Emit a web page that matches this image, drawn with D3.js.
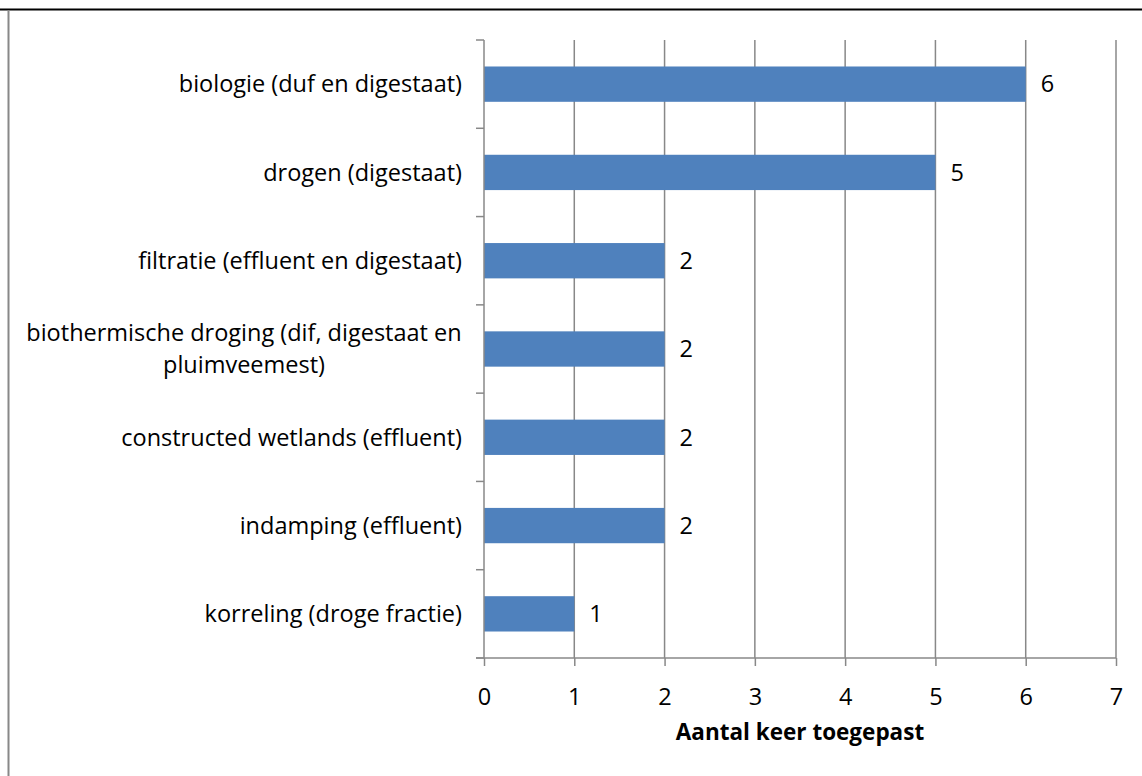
<!DOCTYPE html>
<html>
<head>
<meta charset="utf-8">
<script src="https://cdn.jsdelivr.net/npm/d3@7"></script>
<style>
  body { margin: 0; background: #fff; }
  svg text { font-family: "Open Sans", "Liberation Sans", sans-serif; fill: #000; }
</style>
</head>
<body>
<div id="main"></div>
<script>
const categories = [
  "biologie (duf en digestaat)",
  "drogen (digestaat)",
  "filtratie (effluent en digestaat)",
  "biothermische droging (dif, digestaat en pluimveemest)",
  "constructed wetlands (effluent)",
  "indamping (effluent)",
  "korreling (droge fractie)"
];
const values = [6, 5, 2, 2, 2, 2, 1];
const xTicks = [0, 1, 2, 3, 4, 5, 6, 7];
const axisTitle = "Aantal keer toegepast";

const ctx = {
  W: 1142, H: 776,
  left: 484, right: 1116, top: 40, bottom: 658,
  grey: "#888888", bar: "#4F81BD", fs: "23.5px"
};

function createViz() {
  const svg = d3.select("#main").append("svg")
    .attr("width", ctx.W).attr("height", ctx.H);

  // page borders
  svg.append("line").attr("x1", 0).attr("x2", ctx.W).attr("y1", 9.5).attr("y2", 9.5)
    .attr("stroke", "#000").attr("stroke-width", 2);
  svg.append("line").attr("x1", 8.5).attr("x2", 8.5).attr("y1", 10).attr("y2", ctx.H)
    .attr("stroke", ctx.grey).attr("stroke-width", 2);

  const x = d3.scaleLinear().domain([0, 7]).range([ctx.left, ctx.right]);
  const y = d3.scaleBand().domain(categories).range([ctx.top, ctx.bottom]).paddingInner(0.6).paddingOuter(0.3);
  const yb = d3.scaleBand().domain(categories).range([ctx.top, ctx.bottom]);

  // gridlines
  svg.append("g").selectAll("line").data(xTicks.slice(1)).join("line")
    .attr("x1", d => x(d)).attr("x2", d => x(d))
    .attr("y1", ctx.top).attr("y2", ctx.bottom)
    .attr("stroke", ctx.grey).attr("stroke-width", 1.5);

  // bars
  svg.append("g").selectAll("rect").data(values).join("rect")
    .attr("x", x(0))
    .attr("y", (d, i) => y(categories[i]))
    .attr("width", d => x(d) - x(0))
    .attr("height", y.bandwidth())
    .attr("fill", ctx.bar);

  // value labels
  svg.append("g").selectAll("text").data(values).join("text")
    .attr("x", d => x(d) + 15)
    .attr("y", (d, i) => y(categories[i]) + y.bandwidth() / 2)
    .attr("dy", "0.35em")
    .style("font-size", ctx.fs)
    .text(d => d);

  // y axis line and ticks
  svg.append("line").attr("x1", x(0)).attr("x2", x(0)).attr("y1", ctx.top).attr("y2", ctx.bottom)
    .attr("stroke", ctx.grey).attr("stroke-width", 1.5);
  const bounds = categories.map(c => yb(c)).concat([ctx.bottom]);
  svg.append("g").selectAll("line").data(bounds).join("line")
    .attr("x1", x(0) - 8).attr("x2", x(0))
    .attr("y1", d => d).attr("y2", d => d)
    .attr("stroke", ctx.grey).attr("stroke-width", 1.5);

  // x axis
  const xAxis = svg.append("g")
    .attr("transform", `translate(0,${ctx.bottom})`)
    .call(d3.axisBottom(x).tickValues(xTicks).tickFormat(d3.format("d"))
      .tickSize(8).tickSizeOuter(0).tickPadding(22));
  xAxis.select(".domain").remove();
  xAxis.selectAll("line").attr("stroke", ctx.grey).attr("stroke-width", 1.5);
  xAxis.selectAll("text").style("font-size", ctx.fs).attr("fill", "#000");
  svg.append("line").attr("x1", x(0) - 8).attr("x2", ctx.right).attr("y1", ctx.bottom).attr("y2", ctx.bottom)
    .attr("stroke", ctx.grey).attr("stroke-width", 1.5);

  // category labels
  const lab = svg.append("g");
  categories.forEach((c, i) => {
    const cy = yb(c) + yb.bandwidth() / 2;
    if (c.length > 40) {
      const lines = ["biothermische droging (dif, digestaat en", "pluimveemest)"];
      const t = lab.append("text").attr("text-anchor", "middle").style("font-size", ctx.fs);
      lines.forEach((l, j) => {
        t.append("tspan").attr("x", 244).attr("y", cy + (j - 0.5) * 32).attr("dy", "0.35em").text(l);
      });
    } else {
      lab.append("text").attr("x", 462).attr("y", cy).attr("dy", "0.35em")
        .attr("text-anchor", "end").style("font-size", ctx.fs).text(c);
    }
  });

  // axis title
  svg.append("text").attr("x", (x(0) + x(7)) / 2).attr("y", 740)
    .attr("text-anchor", "middle").style("font-size", "22.5px").style("font-weight", "bold")
    .text(axisTitle);
}
createViz();
</script>
</body>
</html>
